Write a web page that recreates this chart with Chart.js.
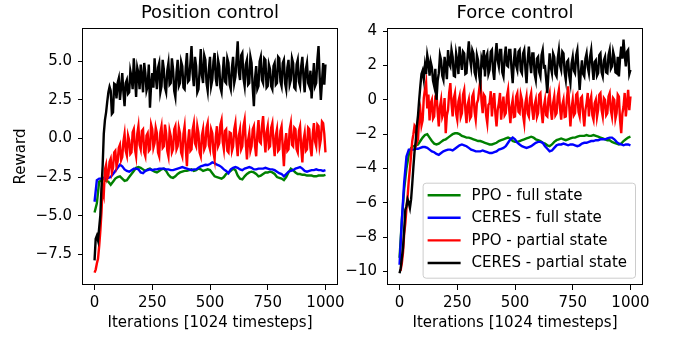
<!DOCTYPE html>
<html>
<head>
<meta charset="utf-8">
<script src="https://cdn.jsdelivr.net/npm/chart.js@4/dist/chart.umd.min.js"></script>
<style>
html, body { margin: 0; padding: 0; background: #fff; }
#wrap { position: relative; width: 678px; height: 339px; }
#wrap canvas { position: absolute; left: 0; top: 0; }
</style>
</head>
<body>
<div id="wrap">
    <canvas id="chartPosicao" width="678" height="339"></canvas>
    <canvas id="chartForca" width="678" height="339"></canvas>
</div>
<script>
// iteracoes das curvas suaves (passo 10) e das curvas ruidosas (passo 5)
var iteracoes = [
    0, 10, 20, 30, 40, 50, 60, 70, 80, 90,
    100, 110, 120, 130, 140, 150, 160, 170, 180, 190,
    200, 210, 220, 230, 240, 250, 260, 270, 280, 290,
    300, 310, 320, 330, 340, 350, 360, 370, 380, 390,
    400, 410, 420, 430, 440, 450, 460, 470, 480, 490,
    500, 510, 520, 530, 540, 550, 560, 570, 580, 590,
    600, 610, 620, 630, 640, 650, 660, 670, 680, 690,
    700, 710, 720, 730, 740, 750, 760, 770, 780, 790,
    800, 810, 820, 830, 840, 850, 860, 870, 880, 890,
    900, 910, 920, 930, 940, 950, 960, 970, 980, 990,
    1000
];
var iteracoesFinas = [
    0, 5, 10, 15, 20, 25, 30, 35, 40, 45, 50, 55, 60, 65, 70, 75, 80, 85, 90, 95,
    100, 105, 110, 115, 120, 125, 130, 135, 140, 145, 150, 155, 160, 165, 170, 175, 180, 185, 190, 195,
    200, 205, 210, 215, 220, 225, 230, 235, 240, 245, 250, 255, 260, 265, 270, 275, 280, 285, 290, 295,
    300, 305, 310, 315, 320, 325, 330, 335, 340, 345, 350, 355, 360, 365, 370, 375, 380, 385, 390, 395,
    400, 405, 410, 415, 420, 425, 430, 435, 440, 445, 450, 455, 460, 465, 470, 475, 480, 485, 490, 495,
    500, 505, 510, 515, 520, 525, 530, 535, 540, 545, 550, 555, 560, 565, 570, 575, 580, 585, 590, 595,
    600, 605, 610, 615, 620, 625, 630, 635, 640, 645, 650, 655, 660, 665, 670, 675, 680, 685, 690, 695,
    700, 705, 710, 715, 720, 725, 730, 735, 740, 745, 750, 755, 760, 765, 770, 775, 780, 785, 790, 795,
    800, 805, 810, 815, 820, 825, 830, 835, 840, 845, 850, 855, 860, 865, 870, 875, 880, 885, 890, 895,
    900, 905, 910, 915, 920, 925, 930, 935, 940, 945, 950, 955, 960, 965, 970, 975, 980, 985, 990, 995,
    1000
];

var nomesSeries = ["PPO - full state", "CERES - full state", "PPO - partial state", "CERES - partial state"];
var coresSeries = ["#008000", "#0000ff", "#ff0000", "#000000"];

var xTicks = [0, 250, 500, 750, 1000];
var posicaoYTicks = [-7.5, -5, -2.5, 0, 2.5, 5];
var forcaYTicks = [-10, -8, -6, -4, -2, 0, 2, 4];

// Position control
var posPpoFull = [
    -4.8, -4.2, -2.8, -2.7, -2.6, -2.75, -2.8, -3.0, -2.8, -2.6,
    -2.5, -2.45, -2.6, -2.75, -2.7, -2.5, -2.3, -2.1, -1.9, -1.85,
    -1.9, -2.0, -2.1, -2.0, -1.95, -2.05, -2.15, -2.2, -2.1, -2.0,
    -1.95, -2.1, -2.35, -2.5, -2.55, -2.45, -2.3, -2.2, -2.15, -2.1,
    -2.1, -2.05, -2.0, -2.1, -2.05, -1.95, -2.0, -2.1, -2.05, -2.0,
    -2.05, -2.25, -2.45, -2.5, -2.55, -2.6, -2.5, -2.3, -2.2, -2.1,
    -1.95, -2.05, -2.4, -2.6, -2.65, -2.45, -2.3, -2.2, -2.15, -2.2,
    -2.3, -2.45, -2.4, -2.3, -2.2, -2.2, -2.15, -2.2, -2.3, -2.5,
    -2.55, -2.6, -2.7, -2.5, -2.2, -1.95, -2.05, -2.2, -2.3, -2.3,
    -2.35, -2.35, -2.4, -2.4, -2.4, -2.45, -2.45, -2.4, -2.4, -2.4,
    -2.35
];
var posCeresFull = [
    -4.1, -2.7, -2.6, -2.6, -2.55, -2.6, -2.55, -2.5, -2.3, -2.1,
    -1.9, -1.7, -1.8, -2.0, -2.1, -2.15, -2.05, -1.95, -1.95, -2.0,
    -2.2, -2.25, -2.1, -2.05, -2.0, -2.05, -2.0, -2.0, -1.95, -1.95,
    -1.95, -2.0, -2.0, -2.05, -2.05, -2.0, -1.95, -1.9, -1.85, -1.9,
    -1.95, -2.0, -2.05, -2.0, -2.0, -1.9, -1.8, -1.75, -1.7, -1.72,
    -1.65, -1.55, -1.6, -1.7, -1.75, -1.85, -2.0, -2.1, -2.25, -2.0,
    -1.9, -1.85, -1.9, -2.0, -2.05, -1.95, -1.9, -1.85, -1.9, -2.0,
    -2.0, -1.95, -1.95, -1.95, -1.9, -1.95, -2.0, -2.0, -2.05, -2.15,
    -2.25, -2.3, -2.45, -2.3, -2.15, -2.1, -2.05, -1.95, -1.9, -1.85,
    -1.95, -2.1, -2.15, -2.1, -2.05, -2.05, -2.0, -2.05, -2.05, -2.1,
    -2.05
];
var posPpoParcial = [
    -8.7, -8.5, -8.1, -7.8, -7.0, -6.0, -4.8, -3.2, -3.6, -2.0,
    -1.7, -2.6, -2.4, -1.5, -1.3, -2.2, -1.9, -0.9, -0.8, -1.8,
    -1.5, -0.6, -0.4, -1.4, -1.2, -0.2, 0.3, -0.8, -1.1, 0.2,
    -0.1, -1.0, -0.9, 0.4, 0.6, -0.7, -1.15, 0.3, 0.8, -0.4,
    -0.7, 0.5, 0.6, -0.9, -1.15, 0.2, 0.35, -0.8, -0.7, 0.9,
    0.6, -0.6, -0.3, 0.7, 0.35, -0.9, -1.15, 0.4, 0.8, -0.6,
    -0.5, 0.9, 0.35, -0.8, -1.15, 0.5, 0.15, -0.9, -0.7, 0.6,
    0.8, -0.7, -0.5, 0.7, 0.35, -0.9, -1.15, 0.3, 0.8, -0.6,
    -1.8, -0.2, 0.6, -0.8, -0.7, 0.6, 1.0, -0.3, -0.5, 0.8,
    0.35, -0.9, -1.15, 0.2, 0.6, -0.7, -0.5, 0.7, 1.0, -0.4,
    -0.7, 0.6, 0.35, -0.9, -1.35, 0.1, 0.8, -0.5, -0.3, 0.9,
    1.2, -0.2, -0.7, 0.5, 0.6, -0.8, -0.9, 0.4, 0.35, -0.8,
    -0.5, 0.6, 1.0, -0.3, -1.15, 0.2, 0.6, -0.7, -0.5, 0.8,
    1.2, -0.3, -1.35, -0.1, 0.35, -0.8, -0.5, 0.6, 0.8, -0.5,
    -1.15, 0.3, 1.2, -0.2, -0.3, 0.8, 1.45, 0.1, -0.9, 0.4,
    0.8, -0.6, -0.5, 0.7, 1.0, -0.3, -1.15, 0.2, 0.6, -0.8,
    -0.7, 0.5, 0.8, -0.6, -1.8, -0.3, 0.35, -0.8, -0.7, 0.6,
    1.0, -0.4, -0.5, 0.7, 0.6, -0.7, -0.9, 0.5, 0.8, -0.6,
    -1.55, -0.1, 0.35, -0.8, -0.7, 0.7, 0.6, -0.6, -1.15, 0.3,
    1.0, -0.2, -0.5, 0.9, 0.8, -0.5, -0.06, 1.1, 1.0, 0.3,
    -0.9
];
var posCeresParcial = [
    -7.9, -6.5, -6.3, -6.6, -5.8, -5.0, -3.2, -1.8, 0.3, 1.2,
    1.7, 2.4, 3.0, 3.35, 3.1, 1.6, 1.7, 3.56, 3.5, 2.6,
    3.6, 3.9, 2.5, 3.3, 4.25, 3.0, 2.1, 3.6, 3.8, 2.9,
    3.0, 4.4, 4.0, 3.2, 5.2, 4.0, 2.7, 4.6, 4.25, 3.2,
    4.8, 4.0, 3.0, 4.9, 4.25, 3.1, 3.4, 4.8, 2.0, 3.5,
    4.25, 3.3, 5.2, 4.1, 3.2, 4.6, 4.9, 3.0, 3.4, 5.1,
    4.5, 3.3, 3.0, 4.4, 4.9, 3.5, 3.6, 5.2, 4.5, 3.1,
    2.7, 4.3, 5.1, 3.4, 3.6, 5.0, 4.7, 3.3, 3.2, 4.6,
    5.55, 3.7, 3.8, 4.9, 6.0, 4.2, 3.4, 5.3, 4.7, 3.0,
    3.2, 4.4, 5.8, 4.1, 3.6, 5.4, 5.1, 3.6, 3.1, 4.5,
    5.3, 3.4, 3.8, 5.0, 5.55, 3.9, 3.4, 5.1, 4.7, 3.3,
    3.0, 4.2, 5.3, 3.7, 3.6, 5.2, 4.9, 3.5, 3.2, 4.6,
    5.3, 3.6, 4.0, 5.1, 6.3, 4.3, 3.8, 5.4, 5.55, 3.9,
    3.4, 4.8, 5.1, 3.5, 3.6, 5.3, 4.9, 3.3, 2.1, 3.9,
    4.7, 3.2, 3.4, 5.0, 5.3, 3.8, 3.6, 5.2, 5.1, 3.3,
    3.4, 4.8, 4.5, 3.4, 3.2, 4.7, 4.9, 3.5, 3.6, 5.3,
    5.2, 3.7, 3.4, 4.9, 5.1, 3.6, 3.2, 4.6, 5.1, 3.5,
    3.8, 5.2, 4.9, 3.3, 3.2, 4.8, 5.1, 3.7, 3.4, 4.7,
    5.3, 3.9, 3.0, 4.5, 4.9, 3.6, 3.4, 4.4, 2.6, 3.8,
    4.9, 3.4, 3.6, 5.1, 6.0, 4.0, 2.5, 3.7, 4.9, 3.5,
    4.8
];

// Force control
var forPpoFull = [
    -9.2, -7.0, -5.2, -4.0, -3.2, -2.8, -2.7, -2.65, -2.6, -2.4,
    -2.2, -2.05, -2.0, -2.2, -2.4, -2.55, -2.6, -2.55, -2.45, -2.35,
    -2.3, -2.2, -2.1, -2.0, -1.95, -1.95, -2.0, -2.1, -2.15, -2.2,
    -2.2, -2.25, -2.3, -2.35, -2.4, -2.4, -2.45, -2.5, -2.55, -2.6,
    -2.6, -2.55, -2.5, -2.4, -2.35, -2.3, -2.25, -2.2, -2.25, -2.4,
    -2.45, -2.45, -2.4, -2.35, -2.3, -2.25, -2.2, -2.15, -2.2, -2.3,
    -2.35, -2.4, -2.5, -2.55, -2.65, -2.7, -2.6, -2.45, -2.35, -2.3,
    -2.25, -2.3, -2.35, -2.3, -2.25, -2.2, -2.2, -2.15, -2.1, -2.1,
    -2.1, -2.05, -2.1, -2.1, -2.05, -2.1, -2.15, -2.2, -2.25, -2.3,
    -2.35, -2.35, -2.45, -2.5, -2.55, -2.6, -2.55, -2.4, -2.3, -2.2,
    -2.15
];
var forCeresFull = [
    -9.6, -7.0, -4.8, -3.3, -2.9, -2.9, -2.9, -2.85, -2.85, -2.8,
    -2.75, -2.75, -2.8, -2.9, -3.0, -3.05, -3.15, -3.2, -3.1, -3.0,
    -2.95, -2.9, -2.9, -2.95, -2.85, -2.75, -2.65, -2.6, -2.65, -2.7,
    -2.8, -2.9, -2.95, -3.0, -3.0, -3.0, -2.95, -3.0, -3.05, -3.1,
    -3.1, -3.05, -3.0, -2.9, -2.85, -2.8, -2.7, -2.5, -2.3, -2.2,
    -2.3, -2.5, -2.6, -2.7, -2.75, -2.8, -2.75, -2.7, -2.6, -2.5,
    -2.45, -2.45, -2.5, -2.7, -2.85, -3.0, -2.95, -2.8, -2.65, -2.6,
    -2.6, -2.55, -2.6, -2.65, -2.6, -2.6, -2.65, -2.7, -2.65, -2.55,
    -2.5, -2.5, -2.45, -2.4, -2.4, -2.35, -2.35, -2.3, -2.3, -2.3,
    -2.25, -2.2, -2.2, -2.3, -2.45, -2.55, -2.6, -2.65, -2.6, -2.6,
    -2.65
];
var forPpoParcial = [
    -9.9, -9.9, -9.5, -8.9, -7.8, -7.2, -6.3, -5.6, -4.7, -4.0,
    -3.2, -2.4, -2.0, -1.5, -1.6, -2.5, -2.3, -1.0, -0.6, -1.5,
    -1.2, 0.1, 0.6, 1.0, -0.5, 0.3, -1.2, -0.2, 0.0, -1.1,
    -0.97, 0.2, 0.39, -0.7, -1.55, -0.4, 0.0, -1.0, -0.78, 0.1,
    -1.94, -0.9, -0.58, 0.4, 0.97, -0.2, -0.97, 0.1, 0.39, -0.8,
    -1.16, -0.1, 0.19, -1.0, -0.78, 0.3, 0.58, -0.6, -1.36, -0.3,
    0.0, -1.1, -0.97, 0.2, 0.39, -0.7, -1.16, -0.2, 0.0, 0.6,
    1.16, -0.1, -0.78, 0.3, 0.19, -0.9, -1.36, -0.3, -0.19, 0.5,
    -0.97, -0.1, 0.39, -0.8, -1.55, -0.6, -0.19, 0.4, -1.16, -0.4,
    0.19, -0.9, -0.78, 0.2, 0.58, -0.6, -1.36, -0.4, 0.0, -1.0,
    -0.97, 0.2, 0.39, -0.7, -0.78, 0.3, 0.0, -0.9, -1.36, -0.2,
    0.19, -0.8, -0.97, 0.1, 0.39, -0.6, -1.16, -0.3, 0.0, -1.0,
    -0.78, 0.3, 0.39, -0.7, -1.36, -0.4, 0.0, -0.9, -0.97, 0.1,
    0.39, -0.6, -1.16, -0.2, 0.19, -0.9, -0.78, 0.2, 0.58, -0.5,
    -1.16, -0.3, 0.0, -1.0, -0.97, 0.1, 0.78, -0.4, -1.55, -0.5,
    0.0, -0.9, -0.78, 0.3, 0.39, -0.7, -0.97, 0.1, 0.19, -0.8,
    -1.55, -0.6, -0.19, 0.4, -0.97, -0.1, 0.19, -0.9, -1.16, -0.2,
    0.0, -1.0, -0.58, 0.3, 0.39, -0.6, -0.97, 0.1, 0.0, -0.9,
    -0.78, 0.2, 0.39, -0.6, -0.97, 0.1, 0.0, -1.1, -0.78, 0.3,
    0.19, -1.2, -1.94, -0.8, -0.39, 0.4, -0.97, -0.2, 0.58, -0.6,
    0.2
];
var forCeresParcial = [
    -10.1, -9.8, -9.2, -8.6, -7.6, -6.4, -6.2, -5.8, -6.0, -6.3,
    -5.8, -4.9, -3.9, -3.0, -2.4, -1.5, -0.9, 0.0, 0.8, 1.5,
    1.7, 1.2, 2.0, 1.5, 2.6, 2.2, 1.4, 2.2, 1.9, 1.1,
    0.8, 1.8, 0.0, 1.1, 1.55, 2.6, 2.3, 1.4, 1.16, 2.5,
    1.94, 1.2, 2.9, 2.1, 1.94, 2.9, 2.5, 1.4, 1.36, 2.7,
    2.3, 1.5, 3.1, 2.3, 1.74, 2.8, 2.7, 1.5, 1.55, 2.6,
    3.4, 2.4, 1.94, 2.9, 2.7, 1.6, 1.36, 2.6, 2.3, 1.4,
    0.97, 2.4, 2.13, 2.9, 1.36, 2.5, 2.7, 1.5, 1.74, 2.8,
    2.9, 1.7, 1.16, 2.5, 3.3, 2.3, 1.94, 2.9, 2.9, 1.6,
    1.36, 2.5, 3.1, 2.0, 1.94, 2.9, 2.9, 1.8, 0.97, 2.2,
    3.0, 2.0, 1.74, 2.8, 2.9, 1.7, 1.55, 2.7, 2.9, 1.8,
    0.97, 2.3, 3.1, 2.2, 1.55, 2.7, 2.7, 1.5, 1.16, 2.4,
    2.5, 1.6, 1.36, 2.6, 2.9, 1.9, 1.94, 1.2, 0.39, 1.6,
    2.7, 1.9, 1.55, 2.7, 2.5, 1.5, 1.36, 2.4, 2.9, 2.0,
    1.74, 2.8, 2.7, 1.6, 1.16, 2.2, 2.3, 1.4, 0.97, 2.1,
    2.5, 1.7, 1.55, 2.6, 2.9, 1.7, 0.58, 1.6, 2.3, 1.5,
    1.36, 2.4, 2.7, 1.9, 1.55, 2.5, 2.9, 1.9, 1.16, 2.2,
    2.3, 1.4, 1.55, 2.6, 2.7, 1.6, 1.36, 2.3, 2.5, 1.6,
    1.55, 2.6, 2.9, 1.8, 1.94, 2.8, 2.5, 1.6, 1.55, 2.5,
    1.36, 2.4, 3.1, 2.4, 3.5, 2.6, 1.94, 2.8, 2.9, 1.5,
    1.74
];

var FONTE = "'DejaVu Sans', sans-serif";
Chart.defaults.color = "#000";
Chart.defaults.font.family = FONTE;

function sinal(txt) {
    return String(txt).replace("-", "\u2212");
}

function montarPontos(xs, valores) {
    return valores.map(function(v, i) {
        return { x: xs[i], y: v };
    });
}

function montarDatasets(series) {
    return series.map(function(par, i) {
        return {
            label: nomesSeries[i],
            data: montarPontos(par[0], par[1]),
            borderColor: coresSeries[i],
            borderWidth: 2.4,
            pointRadius: 0,
            tension: 0,
            fill: false,
            order: series.length - 1 - i
        };
    });
}

// moldura preta em volta da area do grafico
var molduraPlugin = {
    id: "moldura",
    afterDatasetsDraw: function(chart) {
        var ca = chart.chartArea, ctx = chart.ctx;
        ctx.save();
        ctx.strokeStyle = "#000";
        ctx.lineWidth = 1;
        ctx.strokeRect(Math.round(ca.left) - 0.5, Math.round(ca.top) + 0.5,
            Math.round(ca.right - ca.left) + 1, Math.round(ca.bottom - ca.top) - 1);
        ctx.restore();
    }
};

// legenda no canto inferior direito, como no matplotlib
var legendaPlugin = {
    id: "legendaDentro",
    afterDraw: function(chart) {
        var ctx = chart.ctx, ca = chart.chartArea;
        var ds = chart.data.datasets;
        ctx.save();
        ctx.font = "15px " + FONTE;
        var textoW = 0;
        ds.forEach(function(d) { textoW = Math.max(textoW, ctx.measureText(d.label).width); });
        var linhaH = 22.6;
        var w = 49 + textoW + 8;
        var h = 95;
        var right = ca.right - 7;
        var bottom = ca.bottom - 7.3;
        var left = right - w;
        var top = bottom - h;

        ctx.beginPath();
        ctx.roundRect(left + 0.5, top + 0.5, w, h, 3);
        ctx.fillStyle = "rgba(255,255,255,0.8)";
        ctx.fill();
        ctx.strokeStyle = "#cccccc";
        ctx.lineWidth = 1;
        ctx.stroke();

        ctx.textBaseline = "middle";
        ctx.textAlign = "left";
        ds.forEach(function(d, i) {
            var y = top + 12.5 + i * linhaH;
            ctx.beginPath();
            ctx.moveTo(left + 5, y);
            ctx.lineTo(left + 38, y);
            ctx.strokeStyle = d.borderColor;
            ctx.lineWidth = 2.4;
            ctx.stroke();
            ctx.fillStyle = "#000";
            ctx.fillText(d.label, left + 49, y + 0.5);
        });
        ctx.restore();
    }
};

function criarGrafico(id, cfg) {
    var ctx = document.getElementById(id).getContext("2d");
    var tickBase = { size: 15 };
    return new Chart(ctx, {
        type: "line",
        data: { datasets: montarDatasets(cfg.series) },
        options: {
            responsive: false,
            animation: false,
            events: [],
            layout: { padding: cfg.padding },
            plugins: {
                legend: { display: false },
                tooltip: { enabled: false },
                title: {
                    display: true,
                    text: cfg.titulo,
                    fullSize: false,
                    color: "#000",
                    font: { size: 18, weight: "normal" },
                    padding: { top: 2.6, bottom: 3.8 }
                }
            },
            scales: {
                x: {
                    type: "linear",
                    min: -50,
                    max: 1050,
                    afterBuildTicks: function(s) { s.ticks = xTicks.map(function(v) { return { value: v }; }); },
                    afterFit: function(s) { s.height = 50; },
                    grid: { display: true, drawOnChartArea: false, drawTicks: true, tickLength: 5, tickColor: "#000", tickWidth: 1 },
                    border: { display: false },
                    ticks: {
                        font: tickBase, padding: 4, autoSkip: false, maxRotation: 0, minRotation: 0,
                        callback: function(v) { return String(v); }
                    },
                    title: { display: true, text: "Iterations [1024 timesteps]", font: { size: 15 }, padding: { top: 0, bottom: 2.5 } }
                },
                y: {
                    type: "linear",
                    min: cfg.yMin,
                    max: cfg.yMax,
                    afterBuildTicks: function(s) { s.ticks = cfg.yTicks.map(function(v) { return { value: v }; }); },
                    afterFit: function(s) { s.width = cfg.yLargura; },
                    grid: { display: true, drawOnChartArea: false, drawTicks: true, tickLength: 5, tickColor: "#000", tickWidth: 1 },
                    border: { display: false },
                    ticks: {
                        font: tickBase,
                        padding: 6,
                        autoSkip: false,
                        callback: function(v) { return sinal(v.toFixed(cfg.casas)); }
                    },
                    title: cfg.yTitulo
                        ? { display: true, text: cfg.yTitulo, font: { size: 15 }, padding: { top: 7, bottom: 0 } }
                        : { display: false }
                }
            }
        },
        plugins: cfg.plugins
    });
}

criarGrafico("chartPosicao", {
    titulo: "Position control",
    series: [
        [iteracoes, posPpoFull],
        [iteracoes, posCeresFull],
        [iteracoesFinas, posPpoParcial],
        [iteracoesFinas, posCeresParcial]
    ],
    yMin: -9.5,
    yMax: 7.17,
    yTicks: posicaoYTicks,
    casas: 1,
    yTitulo: "Reward",
    yLargura: 78,
    padding: { left: 5, right: 341, top: 0, bottom: 4 },
    plugins: [molduraPlugin]
});

criarGrafico("chartForca", {
    titulo: "Force control",
    series: [
        [iteracoes, forPpoFull],
        [iteracoes, forCeresFull],
        [iteracoesFinas, forPpoParcial],
        [iteracoesFinas, forCeresParcial]
    ],
    yMin: -10.78,
    yMax: 4.18,
    yTicks: forcaYTicks,
    casas: 0,
    yTitulo: null,
    yLargura: 60,
    padding: { left: 328, right: 36, top: 0, bottom: 4 },
    plugins: [molduraPlugin, legendaPlugin]
});
</script>
</body>
</html>
